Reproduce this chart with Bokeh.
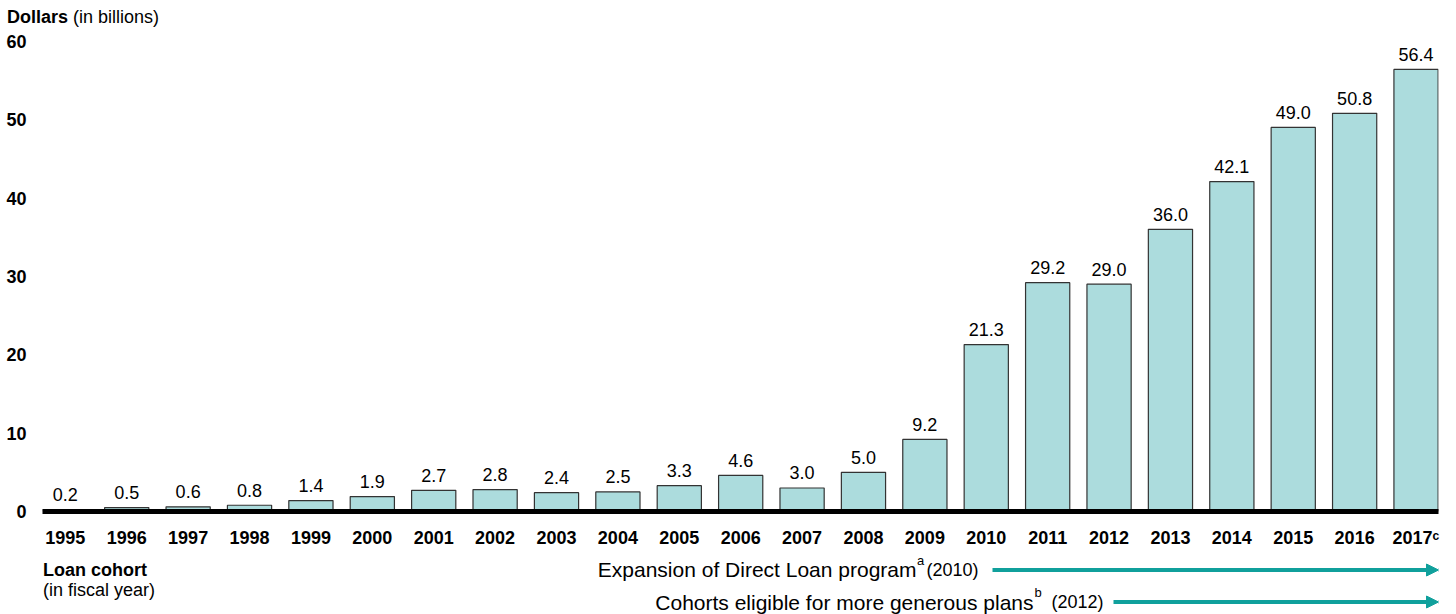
from bokeh.plotting import figure
from bokeh.layouts import column
from bokeh.models import Range1d, FixedTicker, Label, Arrow, NormalHead, ColumnDataSource, Div
from bokeh.embed import file_html
from bokeh.resources import INLINE

# ---- data ----
years = [1995, 1996, 1997, 1998, 1999, 2000, 2001, 2002, 2003, 2004, 2005, 2006,
         2007, 2008, 2009, 2010, 2011, 2012, 2013, 2014, 2015, 2016, 2017]
values = [0.2, 0.5, 0.6, 0.8, 1.4, 1.9, 2.7, 2.8, 2.4, 2.5, 3.3, 4.6,
          3.0, 5.0, 9.2, 21.3, 29.2, 29.0, 36.0, 42.1, 49.0, 50.8, 56.4]
value_labels = [f"{v:.1f}" for v in values]
y_ticks = [0, 10, 20, 30, 40, 50, 60]
x_label_overrides = {2017: "2017\u1d9c"}
y_title_bold = "Dollars"
y_title_rest = "(in billions)"
x_title_bold = "Loan cohort"
x_title_rest = "(in fiscal year)"
expansion_text = "Expansion of Direct Loan program"
expansion_note = "a"
expansion_year = "(2010)"
generous_text = "Cohorts eligible for more generous plans"
generous_note = "b"
generous_year = "(2012)"

FONT = "Liberation Sans"
BAR_FILL = "#acdcdd"
BAR_LINE = "#333333"
ARROW_COLOR = "#10a09c"

# ---- layout (page pixels) ----
W = 1456
TOP_H = 29
MAIN_H = 521
BOT_H = 614 - TOP_H - MAIN_H
LEFT, RIGHT = 42, 18
X0, X1 = 1994.628, 2017.366
Y1 = 61.5

# ---- top strip: y-axis title ----
top = Div(text=f"<b>{y_title_bold}</b> {y_title_rest}", width=W, height=TOP_H, margin=0,
          styles={"font-family": FONT, "font-size": "18px", "color": "black",
                  "padding-left": "7px", "padding-top": "7px", "line-height": "20px",
                  "box-sizing": "border-box"})

# ---- main chart ----
p = figure(width=W, height=MAIN_H, x_range=Range1d(X0, X1), y_range=Range1d(0, Y1),
           title=None, output_backend="svg", toolbar_location=None,
           min_border_left=LEFT, min_border_right=RIGHT, min_border_top=0, min_border_bottom=36)
p.outline_line_color = None
p.xgrid.visible = False
p.ygrid.visible = False

src = ColumnDataSource(dict(x=years, top=values, lab=value_labels))
p.vbar(x="x", top="top", bottom=0, width=0.72, source=src,
       fill_color=BAR_FILL, line_color=BAR_LINE, line_width=1.2)
p.text(x="x", y="top", text="lab", source=src, text_align="center",
       text_baseline="alphabetic", y_offset=-15, text_font_size="18px",
       text_font={"value": FONT}, text_color="black")

yax = p.yaxis[0]
yax.ticker = FixedTicker(ticks=y_ticks)
yax.axis_line_color = None
yax.major_tick_line_color = None
yax.minor_tick_line_color = None
yax.major_label_text_font = FONT
yax.major_label_text_font_style = "bold"
yax.major_label_text_font_size = "18px"
yax.major_label_text_color = "black"
yax.major_label_standoff = 10

xax = p.xaxis[0]
xax.ticker = FixedTicker(ticks=years)
xax.major_label_overrides = x_label_overrides
xax.axis_line_color = "black"
xax.axis_line_width = 5
xax.major_tick_line_color = None
xax.minor_tick_line_color = None
xax.major_label_text_font = FONT
xax.major_label_text_font_style = "bold"
xax.major_label_text_font_size = "18px"
xax.major_label_text_color = "black"
xax.major_label_standoff = 10

# ---- bottom strip: x title and program annotations (coordinates = page pixels) ----
y_top = TOP_H + MAIN_H
bot = figure(width=W, height=BOT_H, x_range=Range1d(LEFT, W - RIGHT),
             y_range=Range1d(y_top + BOT_H, y_top), title=None,
             x_axis_location=None, y_axis_location=None,
             output_backend="svg", toolbar_location=None,
             min_border_left=LEFT, min_border_right=RIGHT, min_border_top=0, min_border_bottom=0)
bot.xgrid.visible = False
bot.ygrid.visible = False
bot.outline_line_color = None


def lab(f, text, x, y, size, bold=False, align="left"):
    f.add_layout(Label(x=x, y=y, text=text, text_font=FONT, text_font_size=size,
                       text_font_style="bold" if bold else "normal",
                       text_align=align, text_baseline="alphabetic", text_color="black"))


lab(bot, x_title_bold, 42.5, 569, "18px", bold=True)
lab(bot, x_title_rest, 42.5, 589, "18px")

lab(bot, expansion_text, 916, 569, "21px", align="right")
lab(bot, expansion_note, 916.5, 560, "13px")
lab(bot, expansion_year, 978, 569, "18px", align="right")
bot.add_layout(Arrow(end=NormalHead(size=12, fill_color=ARROW_COLOR, line_color=ARROW_COLOR),
                     x_start=992, y_start=569.5, x_end=1438, y_end=569.5,
                     line_color=ARROW_COLOR, line_width=4))

lab(bot, generous_text, 1033, 601.5, "21px", align="right")
lab(bot, generous_note, 1034, 592, "13px")
lab(bot, generous_year, 1103, 601.5, "18px", align="right")
bot.add_layout(Arrow(end=NormalHead(size=12, fill_color=ARROW_COLOR, line_color=ARROW_COLOR),
                     x_start=1113, y_start=601.5, x_end=1438, y_end=601.5,
                     line_color=ARROW_COLOR, line_width=4))

layout = column(top, p, bot, spacing=0)
open("out.html", "w").write(file_html(layout, INLINE))
